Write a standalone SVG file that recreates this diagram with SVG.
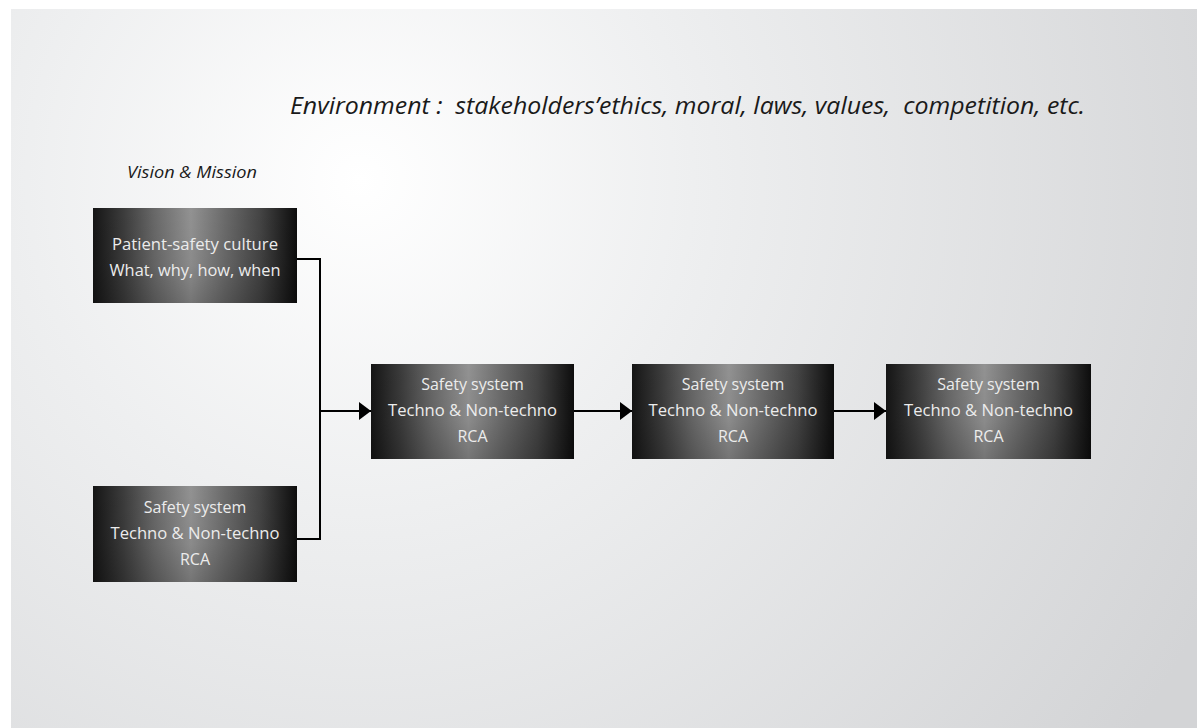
<svg xmlns="http://www.w3.org/2000/svg" width="1197" height="728" viewBox="0 0 1197 728">
<defs>
<radialGradient id="bg" gradientUnits="userSpaceOnUse" cx="360" cy="180" r="950">
<stop offset="0" stop-color="#ffffff"/>
<stop offset="0.35" stop-color="#eeeff0"/>
<stop offset="1" stop-color="#d3d4d6"/>
</radialGradient>
<linearGradient id="box" x1="0" y1="0" x2="1" y2="0">
<stop offset="0" stop-color="#151515"/>
<stop offset="0.15" stop-color="#3c3c3c"/>
<stop offset="0.3" stop-color="#686868"/>
<stop offset="0.48" stop-color="#929292"/>
<stop offset="0.65" stop-color="#6a6a6a"/>
<stop offset="0.82" stop-color="#444"/>
<stop offset="0.95" stop-color="#1c1c1c"/>
<stop offset="1" stop-color="#0d0d0d"/>
</linearGradient>
<linearGradient id="shade" x1="0" y1="0" x2="0" y2="1">
<stop offset="0" stop-color="#000" stop-opacity="0"/>
<stop offset="0.6" stop-color="#000" stop-opacity="0.05"/>
<stop offset="1" stop-color="#000" stop-opacity="0.2"/>
</linearGradient>
<marker id="arr" viewBox="0 0 12 18" refX="12" refY="9" markerWidth="12" markerHeight="18" markerUnits="userSpaceOnUse" orient="auto">
<path d="M0,0 L12,9 L0,18 Z" fill="#000"/>
</marker>
</defs>
<style>
.box{fill:url(#box)}
.sh{fill:url(#shade)}
.bt{font-family:"Open Sans","Noto Sans",sans-serif;font-size:16px;fill:#ececec;text-anchor:middle}
.ttl{font-family:"Open Sans","Noto Sans",sans-serif;font-style:italic;fill:#1a1a1a}
.con{fill:none;stroke:#000;stroke-width:2}
</style>
<rect x="0" y="0" width="1197" height="728" fill="#fff"/>
<rect x="11" y="9" width="1186" height="719" fill="url(#bg)"/>
<text class="ttl" x="290" y="114" font-size="24" xml:space="preserve" textLength="795" lengthAdjust="spacingAndGlyphs">Environment :  stakeholders’ethics, moral, laws, values,  competition, etc.</text>
<text class="ttl" x="127" y="178" font-size="16" textLength="130" lengthAdjust="spacingAndGlyphs">Vision &amp; Mission</text>
<g id="connectors">
<path class="con" d="M297,259 H320 V539 H297"/>
<path class="con" d="M320,411 H371" marker-end="url(#arr)"/>
<path class="con" d="M574,411 H632" marker-end="url(#arr)"/>
<path class="con" d="M834,411 H886" marker-end="url(#arr)"/>
</g>
<g id="n1">
<rect class="box" x="93" y="208" width="204" height="95"/>
<rect class="sh" x="93" y="208" width="204" height="95"/>
<text class="bt" x="195" y="250" textLength="166" lengthAdjust="spacingAndGlyphs">Patient-safety culture</text>
<text class="bt" x="195" y="276" textLength="171" lengthAdjust="spacingAndGlyphs">What, why, how, when</text>
</g>
<g id="n2">
<rect class="box" x="93" y="486" width="204" height="96"/>
<rect class="sh" x="93" y="486" width="204" height="96"/>
<text class="bt" x="195" y="513">Safety system</text>
<text class="bt" x="195" y="539" textLength="169" lengthAdjust="spacingAndGlyphs">Techno &amp; Non-techno</text>
<text class="bt" x="195" y="565">RCA</text>
</g>
<g id="n3">
<rect class="box" x="371" y="364" width="203" height="95"/>
<rect class="sh" x="371" y="364" width="203" height="95"/>
<text class="bt" x="472.5" y="390">Safety system</text>
<text class="bt" x="472.5" y="416" textLength="169" lengthAdjust="spacingAndGlyphs">Techno &amp; Non-techno</text>
<text class="bt" x="472.5" y="442">RCA</text>
</g>
<g id="n4">
<rect class="box" x="632" y="364" width="202" height="95"/>
<rect class="sh" x="632" y="364" width="202" height="95"/>
<text class="bt" x="733" y="390">Safety system</text>
<text class="bt" x="733" y="416" textLength="169" lengthAdjust="spacingAndGlyphs">Techno &amp; Non-techno</text>
<text class="bt" x="733" y="442">RCA</text>
</g>
<g id="n5">
<rect class="box" x="886" y="364" width="205" height="95"/>
<rect class="sh" x="886" y="364" width="205" height="95"/>
<text class="bt" x="988.5" y="390">Safety system</text>
<text class="bt" x="988.5" y="416" textLength="169" lengthAdjust="spacingAndGlyphs">Techno &amp; Non-techno</text>
<text class="bt" x="988.5" y="442">RCA</text>
</g>
</svg>
